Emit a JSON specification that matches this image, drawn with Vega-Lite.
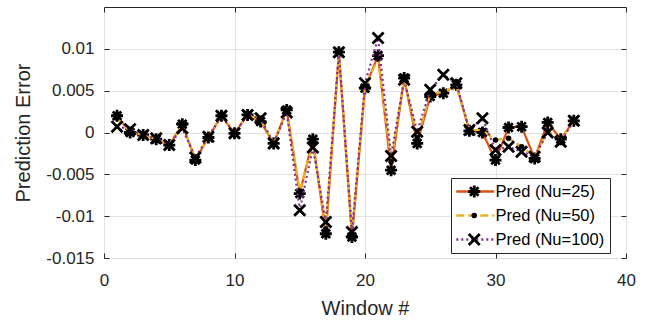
{
  "$schema": "https://vega.github.io/schema/vega-lite/v6.json",
  "width": 522,
  "height": 251,
  "autosize": {"type": "none"},
  "padding": {"left": 104, "top": 7, "right": 27, "bottom": 63},
  "background": "white",
  "data": {
    "values": [
      {"window": 1, "series": "Pred (Nu=25)", "error": 0.0020},
      {"window": 2, "series": "Pred (Nu=25)", "error": 0.0000},
      {"window": 3, "series": "Pred (Nu=25)", "error": -0.0003},
      {"window": 4, "series": "Pred (Nu=25)", "error": -0.0008},
      {"window": 5, "series": "Pred (Nu=25)", "error": -0.0015},
      {"window": 6, "series": "Pred (Nu=25)", "error": 0.0010},
      {"window": 7, "series": "Pred (Nu=25)", "error": -0.0033},
      {"window": 8, "series": "Pred (Nu=25)", "error": -0.0006},
      {"window": 9, "series": "Pred (Nu=25)", "error": 0.0020},
      {"window": 10, "series": "Pred (Nu=25)", "error": -0.0001},
      {"window": 11, "series": "Pred (Nu=25)", "error": 0.0021},
      {"window": 12, "series": "Pred (Nu=25)", "error": 0.0013},
      {"window": 13, "series": "Pred (Nu=25)", "error": -0.0013},
      {"window": 14, "series": "Pred (Nu=25)", "error": 0.0027},
      {"window": 15, "series": "Pred (Nu=25)", "error": -0.0073},
      {"window": 16, "series": "Pred (Nu=25)", "error": -0.0008},
      {"window": 17, "series": "Pred (Nu=25)", "error": -0.0121},
      {"window": 18, "series": "Pred (Nu=25)", "error": 0.0096},
      {"window": 19, "series": "Pred (Nu=25)", "error": -0.0125},
      {"window": 20, "series": "Pred (Nu=25)", "error": 0.0053},
      {"window": 21, "series": "Pred (Nu=25)", "error": 0.0092},
      {"window": 22, "series": "Pred (Nu=25)", "error": -0.0045},
      {"window": 23, "series": "Pred (Nu=25)", "error": 0.0065},
      {"window": 24, "series": "Pred (Nu=25)", "error": -0.0013},
      {"window": 25, "series": "Pred (Nu=25)", "error": 0.0043},
      {"window": 26, "series": "Pred (Nu=25)", "error": 0.0047},
      {"window": 27, "series": "Pred (Nu=25)", "error": 0.0057},
      {"window": 28, "series": "Pred (Nu=25)", "error": 0.0002},
      {"window": 29, "series": "Pred (Nu=25)", "error": 0.0000},
      {"window": 30, "series": "Pred (Nu=25)", "error": -0.0033},
      {"window": 31, "series": "Pred (Nu=25)", "error": 0.0006},
      {"window": 32, "series": "Pred (Nu=25)", "error": 0.0007},
      {"window": 33, "series": "Pred (Nu=25)", "error": -0.0031},
      {"window": 34, "series": "Pred (Nu=25)", "error": 0.0012},
      {"window": 35, "series": "Pred (Nu=25)", "error": -0.0008},
      {"window": 36, "series": "Pred (Nu=25)", "error": 0.0014},

      {"window": 1, "series": "Pred (Nu=50)", "error": 0.0017},
      {"window": 2, "series": "Pred (Nu=50)", "error": 0.0001},
      {"window": 3, "series": "Pred (Nu=50)", "error": -0.0003},
      {"window": 4, "series": "Pred (Nu=50)", "error": -0.0008},
      {"window": 5, "series": "Pred (Nu=50)", "error": -0.0015},
      {"window": 6, "series": "Pred (Nu=50)", "error": 0.0009},
      {"window": 7, "series": "Pred (Nu=50)", "error": -0.0031},
      {"window": 8, "series": "Pred (Nu=50)", "error": -0.0006},
      {"window": 9, "series": "Pred (Nu=50)", "error": 0.0020},
      {"window": 10, "series": "Pred (Nu=50)", "error": -0.0001},
      {"window": 11, "series": "Pred (Nu=50)", "error": 0.0021},
      {"window": 12, "series": "Pred (Nu=50)", "error": 0.0015},
      {"window": 13, "series": "Pred (Nu=50)", "error": -0.0013},
      {"window": 14, "series": "Pred (Nu=50)", "error": 0.0026},
      {"window": 15, "series": "Pred (Nu=50)", "error": -0.0070},
      {"window": 16, "series": "Pred (Nu=50)", "error": -0.0012},
      {"window": 17, "series": "Pred (Nu=50)", "error": -0.0115},
      {"window": 18, "series": "Pred (Nu=50)", "error": 0.0096},
      {"window": 19, "series": "Pred (Nu=50)", "error": -0.0121},
      {"window": 20, "series": "Pred (Nu=50)", "error": 0.0055},
      {"window": 21, "series": "Pred (Nu=50)", "error": 0.0088},
      {"window": 22, "series": "Pred (Nu=50)", "error": -0.0035},
      {"window": 23, "series": "Pred (Nu=50)", "error": 0.0064},
      {"window": 24, "series": "Pred (Nu=50)", "error": -0.0006},
      {"window": 25, "series": "Pred (Nu=50)", "error": 0.0045},
      {"window": 26, "series": "Pred (Nu=50)", "error": 0.0049},
      {"window": 27, "series": "Pred (Nu=50)", "error": 0.0055},
      {"window": 28, "series": "Pred (Nu=50)", "error": 0.0003},
      {"window": 29, "series": "Pred (Nu=50)", "error": 0.0003},
      {"window": 30, "series": "Pred (Nu=50)", "error": -0.0009},
      {"window": 31, "series": "Pred (Nu=50)", "error": -0.0007},
      {"window": 32, "series": "Pred (Nu=50)", "error": -0.0017},
      {"window": 33, "series": "Pred (Nu=50)", "error": -0.0029},
      {"window": 34, "series": "Pred (Nu=50)", "error": 0.0002},
      {"window": 35, "series": "Pred (Nu=50)", "error": -0.0009},
      {"window": 36, "series": "Pred (Nu=50)", "error": 0.0014},

      {"window": 1, "series": "Pred (Nu=100)", "error": 0.0007},
      {"window": 2, "series": "Pred (Nu=100)", "error": 0.0004},
      {"window": 3, "series": "Pred (Nu=100)", "error": -0.0003},
      {"window": 4, "series": "Pred (Nu=100)", "error": -0.0007},
      {"window": 5, "series": "Pred (Nu=100)", "error": -0.0015},
      {"window": 6, "series": "Pred (Nu=100)", "error": 0.0005},
      {"window": 7, "series": "Pred (Nu=100)", "error": -0.0030},
      {"window": 8, "series": "Pred (Nu=100)", "error": -0.0005},
      {"window": 9, "series": "Pred (Nu=100)", "error": 0.0020},
      {"window": 10, "series": "Pred (Nu=100)", "error": -0.0001},
      {"window": 11, "series": "Pred (Nu=100)", "error": 0.0021},
      {"window": 12, "series": "Pred (Nu=100)", "error": 0.0017},
      {"window": 13, "series": "Pred (Nu=100)", "error": -0.0013},
      {"window": 14, "series": "Pred (Nu=100)", "error": 0.0024},
      {"window": 15, "series": "Pred (Nu=100)", "error": -0.0093},
      {"window": 16, "series": "Pred (Nu=100)", "error": -0.0018},
      {"window": 17, "series": "Pred (Nu=100)", "error": -0.0107},
      {"window": 18, "series": "Pred (Nu=100)", "error": 0.0096},
      {"window": 19, "series": "Pred (Nu=100)", "error": -0.0119},
      {"window": 20, "series": "Pred (Nu=100)", "error": 0.0059},
      {"window": 21, "series": "Pred (Nu=100)", "error": 0.0113},
      {"window": 22, "series": "Pred (Nu=100)", "error": -0.0028},
      {"window": 23, "series": "Pred (Nu=100)", "error": 0.0063},
      {"window": 24, "series": "Pred (Nu=100)", "error": 0.0001},
      {"window": 25, "series": "Pred (Nu=100)", "error": 0.0051},
      {"window": 26, "series": "Pred (Nu=100)", "error": 0.0069},
      {"window": 27, "series": "Pred (Nu=100)", "error": 0.0059},
      {"window": 28, "series": "Pred (Nu=100)", "error": 0.0003},
      {"window": 29, "series": "Pred (Nu=100)", "error": 0.0017},
      {"window": 30, "series": "Pred (Nu=100)", "error": -0.0021},
      {"window": 31, "series": "Pred (Nu=100)", "error": -0.0017},
      {"window": 32, "series": "Pred (Nu=100)", "error": -0.0023},
      {"window": 33, "series": "Pred (Nu=100)", "error": -0.0029},
      {"window": 34, "series": "Pred (Nu=100)", "error": 0.0000},
      {"window": 35, "series": "Pred (Nu=100)", "error": -0.0011},
      {"window": 36, "series": "Pred (Nu=100)", "error": 0.0014}
    ]
  },
  "layer": [
    {
      "encoding": {
        "x": {
          "field": "window", "type": "quantitative",
          "scale": {"domain": [0, 40], "nice": false, "zero": false},
          "axis": {
            "orient": "bottom", "values": [0, 10, 20, 30, 40],
            "tickSize": -5, "tickColor": "#262626", "domain": false,
            "grid": true, "gridColor": "#e3e3e3",
            "labelFontSize": 17, "labelColor": "#262626", "labelPadding": 19,
            "labelFlush": false, "labelOverlap": false,
            "title": "Window #", "titleFontSize": 20, "titleFontWeight": "normal",
            "titleColor": "#262626", "titlePadding": 10
          }
        },
        "y": {
          "field": "error", "type": "quantitative",
          "scale": {"domain": [-0.015, 0.015], "nice": false, "zero": false},
          "axis": {
            "orient": "left", "values": [-0.015, -0.01, -0.005, 0, 0.005, 0.01],
            "labelExpr": "'' + datum.value",
            "tickSize": -5, "tickColor": "#262626", "domain": false,
            "grid": true, "gridColor": "#e3e3e3",
            "labelFontSize": 17, "labelColor": "#262626", "labelPadding": 15,
            "labelFlush": false, "labelOverlap": false,
            "title": "Prediction Error", "titleFontSize": 20, "titleFontWeight": "normal",
            "titleColor": "#262626", "titlePadding": 12
          }
        }
      },
      "layer": [
        {
          "transform": [{"filter": "datum.series == 'Pred (Nu=25)'"}],
          "mark": {"type": "line", "strokeWidth": 2.2},
          "encoding": {
            "color": {
              "field": "series", "type": "nominal",
              "scale": {"domain": ["Pred (Nu=25)", "Pred (Nu=50)", "Pred (Nu=100)"], "range": ["#D95319", "#EDB120", "#7E2F8E"]},
              "legend": {
                "title": null, "orient": "none", "legendX": 347, "legendY": 171,
                "padding": 5, "clipHeight": 17, "symbolType": "M-3.45,0L3.45,0", "symbolSize": 121,
                "symbolStrokeWidth": 2.5, "symbolOffset": 11, "labelOffset": 12,
                "labelFontSize": 16.5, "labelColor": "#000000", "rowPadding": 7,
                "fillColor": "white", "strokeColor": "#262626"
              }
            },
            "strokeDash": {
              "field": "series", "type": "nominal",
              "scale": {"domain": ["Pred (Nu=25)", "Pred (Nu=50)", "Pred (Nu=100)"], "range": [[1, 0], [8, 4], [2, 3]]},
              "legend": {
                "title": null, "orient": "none", "legendX": 347, "legendY": 171,
                "padding": 5, "clipHeight": 17, "symbolType": "M-3.45,0L3.45,0", "symbolSize": 121,
                "symbolStrokeWidth": 2.5, "symbolOffset": 11, "labelOffset": 12,
                "labelFontSize": 16.5, "labelColor": "#000000", "rowPadding": 7,
                "fillColor": "white", "strokeColor": "#262626"
              }
            }
          }
        },
        {
          "transform": [{"filter": "datum.series == 'Pred (Nu=25)'"}],
          "mark": {"type": "point", "filled": false, "stroke": "black", "strokeWidth": 2.8, "size": 144, "opacity": 1},
          "encoding": {
            "shape": {
              "field": "series", "type": "nominal",
              "sort": ["Pred (Nu=25)", "Pred (Nu=50)", "Pred (Nu=100)"],
              "scale": {"range": [
                "M-1,0L1,0M0,-1L0,1M-0.71,-0.71L0.71,0.71M-0.71,0.71L0.71,-0.71",
                "M-0.23,0A0.23,0.23 0 1,0 0.23,0A0.23,0.23 0 1,0 -0.23,0Z",
                "M-0.92,-0.92L0.92,0.92M-0.92,0.92L0.92,-0.92"
              ]},
              "legend": {
                "title": null, "orient": "none", "legendX": 347, "legendY": 171,
                "padding": 5, "clipHeight": 17, "symbolSize": 144, "symbolStrokeWidth": 2.8,
                "symbolStrokeColor": "black", "symbolFillColor": "transparent",
                "symbolOffset": 10, "labelOffset": 12, "labelFontSize": 16.5,
                "labelExpr": "''", "rowPadding": 7,
                "fillColor": "transparent", "strokeColor": "transparent"
              }
            }
          }
        },
        {
          "transform": [{"filter": "datum.series == 'Pred (Nu=50)'"}],
          "mark": {"type": "line", "strokeWidth": 2.2},
          "encoding": {
            "color": {"field": "series", "type": "nominal"},
            "strokeDash": {"field": "series", "type": "nominal"}
          }
        },
        {
          "transform": [{"filter": "datum.series == 'Pred (Nu=50)'"}],
          "mark": {"type": "point", "filled": false, "stroke": "black", "strokeWidth": 2.8, "size": 144, "opacity": 1},
          "encoding": {
            "shape": {"field": "series", "type": "nominal", "sort": ["Pred (Nu=25)", "Pred (Nu=50)", "Pred (Nu=100)"]}
          }
        },
        {
          "transform": [{"filter": "datum.series == 'Pred (Nu=100)'"}],
          "mark": {"type": "line", "strokeWidth": 2.2},
          "encoding": {
            "color": {"field": "series", "type": "nominal"},
            "strokeDash": {"field": "series", "type": "nominal"}
          }
        },
        {
          "transform": [{"filter": "datum.series == 'Pred (Nu=100)'"}],
          "mark": {"type": "point", "filled": false, "stroke": "black", "strokeWidth": 2.8, "size": 144, "opacity": 1},
          "encoding": {
            "shape": {"field": "series", "type": "nominal", "sort": ["Pred (Nu=25)", "Pred (Nu=50)", "Pred (Nu=100)"]}
          }
        }
      ]
    },
    {
      "mark": {"type": "point", "opacity": 0},
      "encoding": {
        "x": {
          "field": "window", "type": "quantitative",
          "axis": {"orient": "top", "values": [0, 10, 20, 30, 40], "tickSize": -5, "tickColor": "#262626",
                   "domain": false, "grid": false, "labels": false, "title": null}
        },
        "y": {
          "field": "error", "type": "quantitative",
          "axis": {"orient": "right", "values": [-0.015, -0.01, -0.005, 0, 0.005, 0.01], "tickSize": -5, "tickColor": "#262626",
                   "domain": false, "grid": false, "labels": false, "title": null}
        }
      }
    }
  ],
  "resolve": {"axis": {"x": "independent", "y": "independent"}},
  "config": {
    "font": "Liberation Sans",
    "view": {"stroke": "#262626", "strokeWidth": 1},
    "legend": {"labelFont": "Liberation Sans"}
  }
}
